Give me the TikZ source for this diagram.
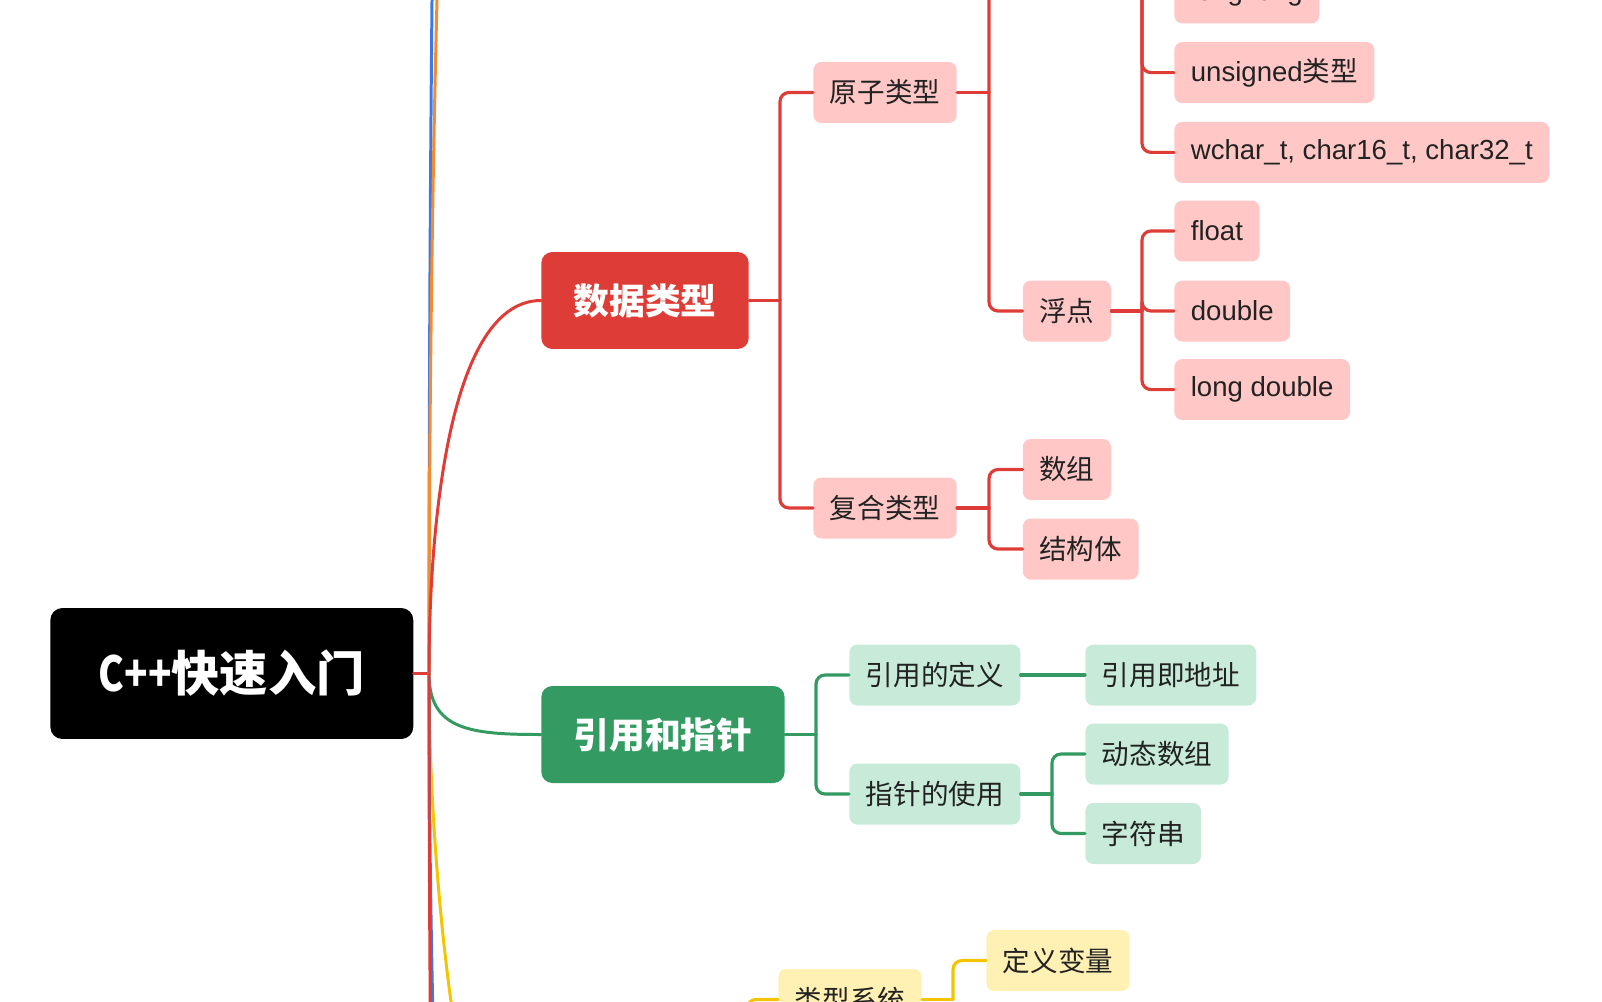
\documentclass[tikz,border=0pt]{standalone}
\usepackage{fontspec}
\setmainfont{Noto Sans CJK SC}
\newfontfamily\latinfont{Liberation Sans}
\newfontfamily\narrowfont[FakeStretch=0.8]{Noto Sans CJK SC}

\definecolor{redmain}{HTML}{DE3D37}
\definecolor{redsoft}{HTML}{FFC8C6}
\definecolor{greenmain}{HTML}{339B62}
\definecolor{greensoft}{HTML}{C7EBD8}
\definecolor{yellowmain}{HTML}{F4C400}
\definecolor{yellowsoft}{HTML}{FFF0B3}
\definecolor{bluemain}{HTML}{3D78E8}
\definecolor{orangemain}{HTML}{F68B2C}
\definecolor{inkdark}{HTML}{222222}

\begin{document}
\begin{tikzpicture}[x=0.02cm, y=-0.02cm, line cap=round,
    rootbox/.style={fill=black, text=white, rectangle, rounded corners=0.24cm,
      minimum width=7.26cm, minimum height=2.62cm, inner xsep=0.4cm, anchor=west,
      font=\bfseries\fontsize{27.5pt}{30pt}\selectfont},
    topicbox/.style={text=white, rectangle, rounded corners=0.22cm,
      minimum height=1.94cm, inner xsep=0.64cm, anchor=west,
      font=\bfseries\fontsize{20.4pt}{24pt}\selectfont},
    subbox/.style={text=inkdark, rectangle, rounded corners=0.16cm,
      minimum height=1.22cm, inner xsep=0.33cm, anchor=west,
      font=\fontsize{15.7pt}{18pt}\selectfont},
    branch/.style={line width=1.7pt},
    link/.style={line width=1.8pt, rounded corners=0.18cm}]
\useasboundingbox (0,0) rectangle (1602,1001);
\clip (0,0) rectangle (1602,1001);

\node[rootbox] (root) at (50,673.5) {{\narrowfont C++}快速入门};

\node[topicbox, fill=redmain] (d0) at (541,300.5) {数据类型};
\node[topicbox, fill=greenmain] (g0) at (541,734.5) {引用和指针};

\node[subbox, fill=redsoft] (d1) at (813,92.5) {原子类型};
\node[subbox, fill=redsoft] (d2) at (813,508) {复合类型};
\node[subbox, fill=redsoft] (d3) at (1022.5,311) {浮点};
\node[subbox, fill=redsoft] (d4) at (1022.5,469.5) {数组};
\node[subbox, fill=redsoft] (d5) at (1022.5,549) {结构体};

\node[subbox, fill=redsoft] (d6) at (1174,-7) {\latinfont long long};
\node[subbox, fill=redsoft] (d7) at (1174,72.6) {{\latinfont unsigned}类型};
\node[subbox, fill=redsoft] (d8) at (1174,152.4) {\latinfont wchar\_t, char16\_t, char32\_t};
\node[subbox, fill=redsoft] (d9) at (1174,231) {\latinfont float};
\node[subbox, fill=redsoft] (d10) at (1174,311) {\latinfont double};
\node[subbox, fill=redsoft] (d11) at (1174,389.6) {\latinfont long double};

\node[subbox, fill=greensoft] (g1) at (849,675) {引用的定义};
\node[subbox, fill=greensoft] (g2) at (849,794) {指针的使用};
\node[subbox, fill=greensoft] (g3) at (1085,675) {引用即地址};
\node[subbox, fill=greensoft] (g4) at (1085,754) {动态数组};
\node[subbox, fill=greensoft] (g5) at (1085,833.5) {字符串};

\node[subbox, fill=yellowsoft] (y1) at (778,999.5) {类型系统};
\node[subbox, fill=yellowsoft] (y2) at (986,960.5) {定义变量};

% junctions and ends outside the page
\coordinate (jr) at (429,673.5);
\coordinate (blueup) at (541,-1600);
\coordinate (orangeup) at (541,-1000);
\coordinate (y0) at (541,1250);
\coordinate (bluedown) at (541,2000);
\coordinate (reddown) at (541,2600);
\coordinate (jd0) at (780,300.5);
\coordinate (jd1) at (989,92.5);
\coordinate (jd2) at (989,508);
\coordinate (jd3) at (1142,311);
\coordinate (dint) at (1022.5,-120);
\coordinate (jint) at (1142,-120);
\coordinate (jg0) at (816,734.5);
\coordinate (jg2) at (1052,794);
\coordinate (jy0) at (747,1250);
\coordinate (jy1) at (953,999.5);

% main branches
\draw[branch, redmain] (root.east) -- (jr);
\draw[branch, bluemain] (jr) .. controls (429,-180) and (441,-1600) .. (blueup);
\draw[branch, orangemain] (jr) .. controls (429,-12) and (454,-1000) .. (orangeup);
\draw[branch, redmain] (jr) .. controls (429,520) and (450,300.5) .. (d0.west);
\draw[branch, greenmain] (jr) .. controls (429,730) and (470,734.5) .. (g0.west);
\draw[branch, yellowmain] (jr) .. controls (429,910) and (470,1250) .. (y0);
\draw[branch, bluemain] (jr) .. controls (429,1219) and (462,2000) .. (bluedown);
\draw[branch, redmain] (jr) .. controls (429,1464) and (450,2600) .. (reddown);

% red subtree
\draw[link, redmain] (d0.east) -- (jd0);
\draw[link, redmain] (jd0) |- (d1.west);
\draw[link, redmain] (jd0) |- (d2.west);
\draw[link, redmain] (d1.east) -- (jd1);
\draw[link, redmain] (jd1) |- (dint);
\draw[link, redmain] (jd1) |- (d3.west);
\draw[link, redmain] (jint) |- (d6.west);
\draw[link, redmain] (jint) |- (d7.west);
\draw[link, redmain] (jint) |- (d8.west);
\draw[link, redmain] (d3.east) -- (jd3);
\draw[link, redmain] (jd3) |- (d9.west);
\draw[link, redmain] (jd3) |- (d10.west);
\draw[link, redmain] (jd3) |- (d11.west);
\draw[link, redmain] (d2.east) -- (jd2);
\draw[link, redmain] (jd2) |- (d4.west);
\draw[link, redmain] (jd2) |- (d5.west);

% green subtree
\draw[link, greenmain] (g0.east) -- (jg0);
\draw[link, greenmain] (jg0) |- (g1.west);
\draw[link, greenmain] (jg0) |- (g2.west);
\draw[link, greenmain] (g1.east) -- (g3.west);
\draw[link, greenmain] (g2.east) -- (jg2);
\draw[link, greenmain] (jg2) |- (g4.west);
\draw[link, greenmain] (jg2) |- (g5.west);

% yellow subtree
\draw[link, yellowmain] (jy0) |- (y1.west);
\draw[link, yellowmain] (y1.east) -- (jy1);
\draw[link, yellowmain] (jy1) |- (y2.west);
\end{tikzpicture}
\end{document}
